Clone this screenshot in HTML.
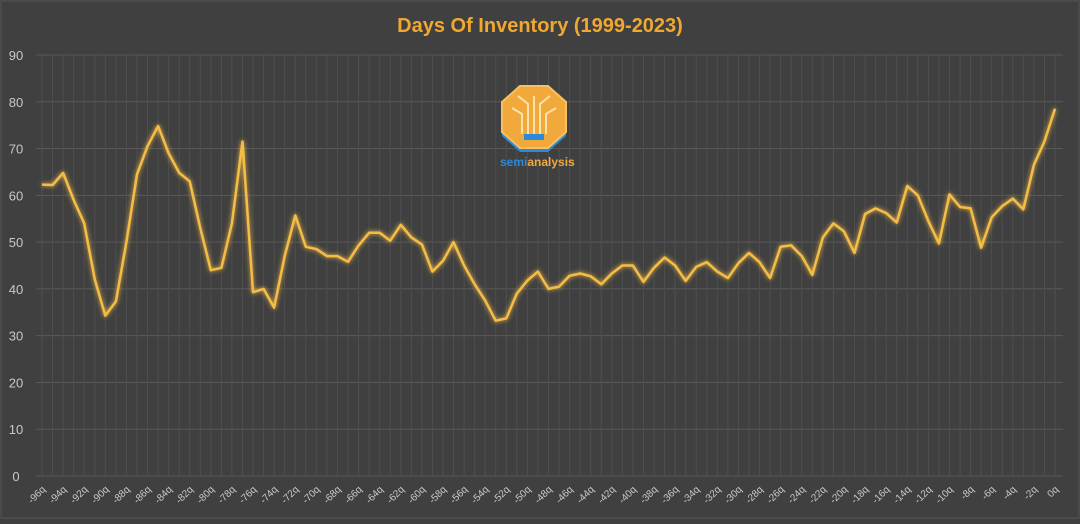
<!DOCTYPE html>
<html><head><meta charset="utf-8"><style>
html,body{margin:0;padding:0;background:#404040;}
body{width:1080px;height:519px;overflow:hidden;font-family:"Liberation Sans",sans-serif;}
</style></head><body>
<svg id="chart" width="1080" height="519" xmlns="http://www.w3.org/2000/svg">
<defs><filter id="glow" x="-5%" y="-20%" width="110%" height="140%"><feGaussianBlur stdDeviation="2.5" result="b"/><feMerge><feMergeNode in="b"/><feMergeNode in="SourceGraphic"/></feMerge></filter></defs>
<rect x="0" y="0" width="1080" height="519" fill="#404040"/>
<rect x="1" y="1" width="1078" height="517" fill="none" stroke="#555"/>
<text x="540" y="32" text-anchor="middle" font-size="20" font-weight="bold" fill="#f0a830">Days Of Inventory (1999-2023)</text>
<g id="grid"></g>
<g id="yticks"></g>
<g id="xticks"></g>
<g>
<polygon points="520,86 548,86 566,102 566,132 548,148 520,148 502,132 502,102" fill="#2d8ad8" transform="translate(0,4)"/>
<polygon points="520,86 548,86 566,102 566,132 548,148 520,148 502,132 502,102" fill="#f2a93b" stroke="#f7c064" stroke-width="2"/>
<g stroke="#fbe3a6" stroke-width="2" fill="none"><path d="M534 134 V96 M528 134 V104 L518 96 M540 134 V104 L550 96 M522 134 V114 L512 108 M546 134 V114 L556 108"/></g>
<rect x="524" y="134" width="20" height="6" fill="#2d8ad8"/>
<text x="500" y="166" font-size="12" font-weight="bold" fill="#2d8ad8">semi<tspan fill="#f2a93b">analysis</tspan></text>
</g>
<path id="line" fill="none" stroke="#f5bd45" stroke-width="2.5" stroke-linejoin="round" filter="url(#glow)"/>
</svg>
<script>
const quarters = [];
for (let q = -96; q <= 0; q++) quarters.push(q);
const daysOfInventory = [62.3,62.2,64.8,59,54,42,34.3,37.3,50,64.5,70.5,74.8,69,64.8,63,53,44,44.5,54,71.5,39.3,40,36,47,55.7,49,48.5,47,47,45.8,49.3,52,52,50.3,53.7,51,49.5,43.7,46,50,45,41,37.5,33.2,33.7,39,41.8,43.7,40,40.5,42.8,43.3,42.7,41,43.3,45,45,41.5,44.5,46.7,45,41.7,44.7,45.7,43.7,42.3,45.5,47.7,45.7,42.3,49,49.3,47,43,51,54,52.3,47.7,56,57.2,56.2,54.2,62,60,54.5,49.7,60.2,57.5,57.2,48.8,55.3,57.7,59.3,57,66.5,71.5,78.5];
const yTicks = [0,10,20,30,40,50,60,70,80,90];
const NS = "http://www.w3.org/2000/svg";
const x0 = 42, x1 = 1055, yTop = 55, yBot = 476;
const xScale = q => x0 + (q - quarters[0]) * (x1 - x0) / (quarters[quarters.length-1] - quarters[0]);
const yScale = v => yBot - v * (yBot - yTop) / 90;
const grid = document.getElementById('grid'), yt = document.getElementById('yticks'), xt = document.getElementById('xticks');
function mk(tag, attrs){const e=document.createElementNS(NS,tag);for(const k in attrs)e.setAttribute(k,attrs[k]);return e;}
yTicks.forEach(v=>{
  const l=mk('line',{x1:36,x2:1063,y1:yScale(v),y2:yScale(v),stroke:'#595959','stroke-width':1});
  
  
  grid.appendChild(l);
  const t=mk('text',{x:16,y:yScale(v)+5,'text-anchor':'middle','font-size':13,fill:'#c8c8c8'});
  t.textContent=v;
  
  
  yt.appendChild(t);
});
quarters.forEach((q,i)=>{
  const l=mk('line',{x1:xScale(q),x2:xScale(q),y1:yTop,y2:yBot,stroke:'#4f4f4f','stroke-width':1});
  
  
  grid.appendChild(l);
  if(q%2===0){
    const x=xScale(q)+4,y=490;
    const t=mk('text',{x:x,y:y,'text-anchor':'end','font-size':10,fill:'#c8c8c8',transform:`rotate(-45 ${x} ${y})`});
    t.textContent=q+'q';
    
    
    xt.appendChild(t);
  }
});
document.getElementById('line').setAttribute('d', daysOfInventory.map((v,i)=>(i?'L':'M')+xScale(quarters[i]).toFixed(1)+' '+yScale(v).toFixed(1)).join(' '));
</script>
</body></html>
